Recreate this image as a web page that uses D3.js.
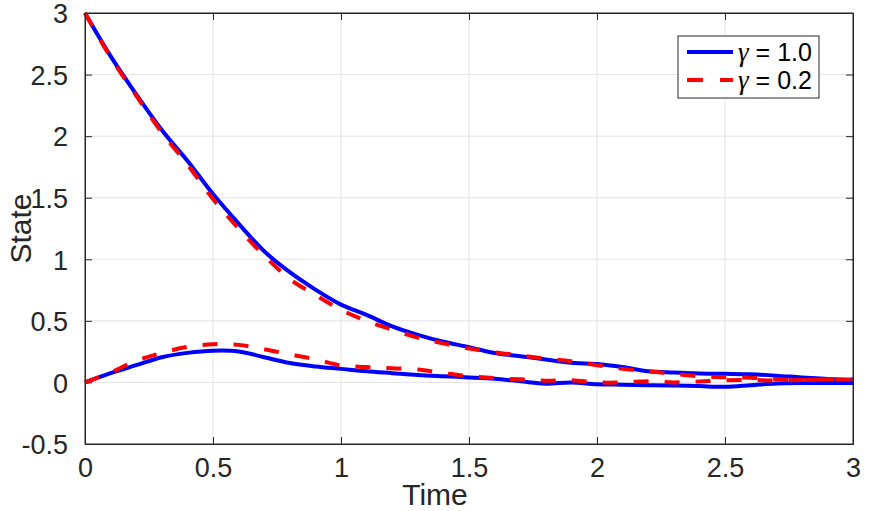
<!DOCTYPE html>
<html>
<head>
<meta charset="utf-8">
<script src="https://cdn.jsdelivr.net/npm/d3@7"></script>
<style>
  html, body { margin: 0; padding: 0; background: #fff; }
  svg { display: block; }
</style>
</head>
<body>
<svg id="chart" width="875" height="511"></svg>
<script>
// ---- data ----
const time = [0.0, 0.1, 0.2, 0.3, 0.4, 0.5, 0.6, 0.7, 0.8, 0.9, 1.0,
              1.1, 1.2, 1.3, 1.4, 1.5, 1.6, 1.7, 1.8, 1.9, 2.0,
              2.1, 2.2, 2.3, 2.4, 2.5, 2.6, 2.7, 2.8, 2.9, 3.0];

// gamma = 1.0 (blue, solid)
const state1Gamma10 = [3.00, 2.65, 2.34, 2.05, 1.80, 1.53, 1.29, 1.065, 0.895, 0.754, 0.632,
                       0.548, 0.455, 0.386, 0.330, 0.287, 0.239, 0.213, 0.186, 0.159, 0.150,
                       0.125, 0.090, 0.080, 0.073, 0.070, 0.066, 0.055, 0.040, 0.028, 0.017];
const state2Gamma10 = [0.000, 0.075, 0.140, 0.205, 0.240, 0.258, 0.252, 0.205, 0.158, 0.130, 0.110,
                       0.090, 0.075, 0.060, 0.050, 0.041, 0.030, 0.010, -0.010, 0.000, -0.015,
                       -0.018, -0.022, -0.025, -0.030, -0.035, -0.022, -0.008, -0.004, -0.004, -0.004];

// gamma = 0.2 (red, dashed)
const state1Gamma02 = [3.00, 2.64, 2.33, 2.03, 1.77, 1.49, 1.25, 1.03, 0.84, 0.71, 0.59,
                       0.50, 0.428, 0.364, 0.317, 0.275, 0.245, 0.220, 0.193, 0.172, 0.140,
                       0.110, 0.090, 0.070, 0.050, 0.043, 0.038, 0.026, 0.020, 0.022, 0.025];
const state2Gamma02 = [0.000, 0.080, 0.175, 0.240, 0.288, 0.310, 0.305, 0.270, 0.228, 0.188, 0.138,
                       0.125, 0.115, 0.105, 0.076, 0.050, 0.035, 0.025, 0.014, 0.018, 0.000,
                       0.000, 0.010, 0.000, 0.008, 0.018, 0.020, 0.015, 0.020, 0.025, 0.025];

const xTicks = [0, 0.5, 1, 1.5, 2, 2.5, 3];
const yTicks = [-0.5, 0, 0.5, 1, 1.5, 2, 2.5, 3];
const xTickLabels = ["0", "0.5", "1", "1.5", "2", "2.5", "3"];
const yTickLabels = ["-0.5", "0", "0.5", "1", "1.5", "2", "2.5", "3"];
const legendLabels = ["1.0", "0.2"];
const xLabel = "Time";
const yLabel = "State";

// ---- layout ----
const svg = d3.select("#chart");
const mLeft = 85, mRight = 853, mTop = 13, mBottom = 444;
const axisColor = "#262626";
const gridColor = "#e3e3e3";
const tickLen = 7;
const fontSans = "Liberation Sans, Arial, Helvetica, sans-serif";
const fontSerif = "Liberation Serif, Times New Roman, serif";

const x = d3.scaleLinear().domain([0, 3]).range([mLeft, mRight]);
const y = d3.scaleLinear().domain([-0.5, 3]).range([mBottom, mTop]);

// grid
const grid = svg.append("g");
grid.selectAll(".gx").data(xTicks.slice(1, -1)).enter().append("line")
  .attr("x1", d => x(d)).attr("x2", d => x(d))
  .attr("y1", mTop).attr("y2", mBottom)
  .attr("stroke", gridColor).attr("stroke-width", 1);
grid.selectAll(".gy").data(yTicks.slice(1, -1)).enter().append("line")
  .attr("x1", mLeft).attr("x2", mRight)
  .attr("y1", d => y(d)).attr("y2", d => y(d))
  .attr("stroke", gridColor).attr("stroke-width", 1);

// axes with inward ticks on all four sides
const bottomAxis = d3.axisBottom(x).tickValues(xTicks).tickSize(-tickLen).tickPadding(14)
  .tickFormat((d, i) => xTickLabels[i]);
const topAxis = d3.axisTop(x).tickValues(xTicks).tickSize(-tickLen).tickFormat("");
const leftAxis = d3.axisLeft(y).tickValues(yTicks).tickSize(-tickLen).tickPadding(17)
  .tickFormat((d, i) => yTickLabels[i]);
const rightAxis = d3.axisRight(y).tickValues(yTicks).tickSize(-tickLen).tickFormat("");

function styleAxis(g) {
  g.select(".domain").attr("stroke", axisColor).attr("stroke-width", 1).attr("fill", "none");
  g.selectAll(".tick line").attr("stroke", axisColor).attr("stroke-width", 1);
  g.selectAll(".tick text").attr("fill", axisColor)
    .attr("font-family", fontSans).attr("font-size", 27);
}

svg.append("g").attr("transform", `translate(0,${mBottom})`).call(bottomAxis).call(styleAxis)
  .selectAll(".tick text").attr("dy", "0.71em");
svg.append("g").attr("transform", `translate(0,${mTop})`).call(topAxis).call(styleAxis);
svg.append("g").attr("transform", `translate(${mLeft},0)`).call(leftAxis).call(styleAxis)
  .selectAll(".tick text").attr("dy", "0.36em");
svg.append("g").attr("transform", `translate(${mRight},0)`).call(rightAxis).call(styleAxis);

// lines
const line = d3.line()
  .x((d, i) => x(time[i]))
  .y(d => y(d))
  .curve(d3.curveCatmullRom.alpha(0.5));

const series = [
  { values: state1Gamma10, color: "#0000ff", dash: null },
  { values: state2Gamma10, color: "#0000ff", dash: null },
  { values: state1Gamma02, color: "#ff0000", dash: "15,16" },
  { values: state2Gamma02, color: "#ff0000", dash: "15,16" }
];

const plot = svg.append("g");
plot.selectAll("path.series").data(series).enter().append("path")
  .attr("class", "series")
  .attr("d", d => line(d.values))
  .attr("fill", "none")
  .attr("stroke", d => d.color)
  .attr("stroke-width", 4)
  .attr("stroke-linejoin", "round")
  .attr("stroke-dasharray", d => d.dash);

// box outline
svg.append("rect")
  .attr("x", mLeft).attr("y", mTop)
  .attr("width", mRight - mLeft).attr("height", mBottom - mTop)
  .attr("fill", "none").attr("stroke", axisColor).attr("stroke-width", 1);

// axis labels
svg.append("text")
  .attr("x", 435).attr("y", 505)
  .attr("text-anchor", "middle")
  .attr("fill", axisColor)
  .attr("font-family", fontSans).attr("font-size", 30)
  .text(xLabel);

svg.append("text")
  .attr("transform", `translate(31,${(mTop + mBottom) / 2}) rotate(-90)`)
  .attr("text-anchor", "middle")
  .attr("fill", axisColor)
  .attr("font-family", fontSans).attr("font-size", 30)
  .text(yLabel);

// legend
const legend = svg.append("g");
legend.append("rect")
  .attr("x", 678).attr("y", 36).attr("width", 141).attr("height", 62)
  .attr("fill", "#fff").attr("stroke", axisColor).attr("stroke-width", 1);

const legendItems = [
  { label: legendLabels[0], color: "#0000ff", dash: null, yy: 52 },
  { label: legendLabels[1], color: "#ff0000", dash: "16,17", yy: 80 }
];
legendItems.forEach(it => {
  legend.append("line")
    .attr("x1", 687).attr("x2", 733)
    .attr("y1", it.yy).attr("y2", it.yy)
    .attr("stroke", it.color).attr("stroke-width", 4)
    .attr("stroke-dasharray", it.dash);
  const t = legend.append("text")
    .attr("x", 738).attr("y", it.yy + 9)
    .attr("fill", "#000")
    .attr("font-family", fontSans)
    .attr("font-size", 25);
  t.append("tspan")
    .attr("font-family", fontSerif)
    .attr("font-style", "italic")
    .attr("font-size", 27)
    .text("\u03B3");
  t.append("tspan")
    .attr("font-family", fontSans)
    .attr("font-size", 25)
    .text(" = " + it.label);
});
</script>
</body>
</html>
